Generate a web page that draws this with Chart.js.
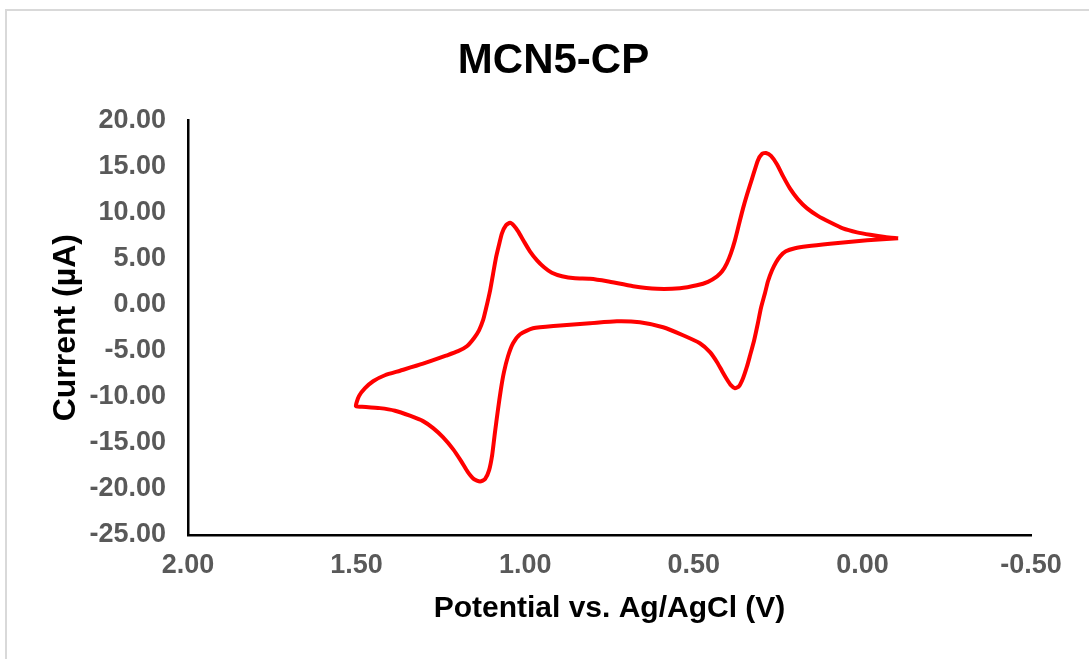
<!DOCTYPE html>
<html>
<head>
<meta charset="utf-8">
<title>MCN5-CP</title>
<script src="https://cdn.jsdelivr.net/npm/chart.js@4/dist/chart.umd.min.js"></script>
<style>
  html, body { margin: 0; padding: 0; background: #fff; }
  .frame {
    position: absolute;
    left: 5px;
    top: 9px;
    right: 0;
    bottom: 0;
    border-top: 2px solid #d9d9d9;
    border-left: 2px solid #d9d9d9;
  }
  #cv { position: absolute; left: 0; top: 0; }
</style>
</head>
<body>
<div class="frame"></div>
<canvas id="cv" width="1089" height="659"></canvas>
<script>
// cyclic voltammogram, one closed sweep (V vs Ag/AgCl, current in µA)
// upper branch runs right -> left, lower branch back left -> right
const potential = [
  -0.106, -0.067, -0.023, 0.016, 0.058, 0.096, 0.132, 0.164, 0.191, 0.215,
  0.235, 0.253, 0.271, 0.286, 0.298, 0.310, 0.327, 0.342, 0.354, 0.366,
  0.378, 0.390, 0.402, 0.416, 0.431, 0.458, 0.491, 0.541, 0.609, 0.680,
  0.757, 0.808, 0.852, 0.891, 0.921, 0.944, 0.965, 0.986, 1.004, 1.021,
  1.033, 1.045, 1.057, 1.069, 1.078, 1.087, 1.096, 1.104, 1.116, 1.125,
  1.137, 1.152, 1.173, 1.199, 1.235, 1.303, 1.371, 1.416, 1.451, 1.475,
  1.493, 1.502,
  1.484, 1.431, 1.386, 1.342, 1.303, 1.273, 1.244, 1.214, 1.190, 1.170,
  1.152, 1.134, 1.119, 1.107, 1.098, 1.090, 1.081, 1.072, 1.063, 1.051,
  1.036, 1.015, 0.977, 0.906, 0.808, 0.728, 0.660, 0.591, 0.532, 0.482,
  0.452, 0.431, 0.416, 0.402, 0.390, 0.378, 0.366, 0.354, 0.342, 0.333,
  0.321, 0.310, 0.301, 0.289, 0.280, 0.268, 0.256, 0.244, 0.227, 0.200,
  0.164, 0.096, -0.014, -0.106
];
const current = [
  7.20, 7.34, 7.58, 7.85, 8.28, 8.94, 9.64, 10.45, 11.43, 12.62,
  13.92, 15.22, 16.15, 16.47, 16.36, 15.66, 13.71, 11.97, 10.45, 8.72,
  6.98, 5.57, 4.49, 3.62, 3.08, 2.48, 2.10, 1.78, 1.72, 2.00,
  2.54, 2.81, 2.86, 3.08, 3.46, 4.06, 4.81, 5.79, 6.88, 7.96,
  8.56, 8.88, 8.61, 7.74, 6.44, 5.03, 3.19, 1.56, -0.39, -1.69,
  -2.78, -3.64, -4.51, -5.05, -5.54, -6.41, -7.17, -7.66, -8.31, -9.07,
  -9.93, -11.02,
  -11.07, -11.23, -11.51, -12.05, -12.64, -13.40, -14.38, -15.68, -16.98, -18.17,
  -18.93, -19.20, -18.93, -17.96, -16.33, -13.95, -11.45, -9.17, -7.33, -5.60,
  -4.19, -3.21, -2.56, -2.29, -2.02, -1.80, -1.91, -2.45, -3.32, -4.19,
  -5.16, -6.25, -7.22, -8.09, -8.74, -9.07, -8.85, -7.98, -6.68, -5.49,
  -3.86, -2.02, -0.39, 1.24, 2.54, 3.73, 4.60, 5.25, 5.79, 6.12,
  6.33, 6.60, 6.98, 7.20
];

const xTicks = [2.0, 1.5, 1.0, 0.5, 0.0, -0.5];
const yTicks = [20, 15, 10, 5, 0, -5, -10, -15, -20, -25];

const points = potential.map((v, i) => ({ x: v, y: current[i] }));
const tickGray = "#595959";
const family = "'Liberation Sans', Arial, sans-serif";

new Chart(document.getElementById("cv"), {
  type: "scatter",
  data: {
    datasets: [
      {
        data: points,
        showLine: true,
        borderColor: "#ff0000",
        borderWidth: 4,
        pointRadius: 0,
        tension: 0.2,
        fill: false,
      },
    ],
  },
  options: {
    responsive: false,
    animation: false,
    layout: { padding: { top: 10, right: 58, bottom: 0, left: 76 } },
    plugins: {
      legend: { display: false },
      tooltip: { enabled: false },
      title: {
        display: true,
        text: "MCN5-CP",
        color: "#000",
        font: { family, size: 42, weight: "bold", lineHeight: 1.2 },
        padding: { top: 26, bottom: 34 },
      },
    },
    scales: {
      x: {
        type: "linear",
        reverse: true,
        min: Math.min(...xTicks),
        max: Math.max(...xTicks),
        afterBuildTicks: (s) => { s.ticks = xTicks.map((v) => ({ value: v })); },
        afterFit: (s) => { s.height = 124; },
        grid: { display: false, drawTicks: false, tickLength: 0 },
        border: { display: true, color: "#000", width: 2.5 },
        ticks: {
          color: tickGray,
          padding: 14,
          maxRotation: 0,
          font: { family, size: 27, weight: "bold" },
          callback: (v) => Number(v).toFixed(2),
        },
        title: {
          display: true,
          text: "Potential vs. Ag/AgCl (V)",
          color: "#000",
          font: { family, size: 30, weight: "bold", lineHeight: 1.2 },
          padding: { top: 32, bottom: 32 },
        },
      },
      y: {
        type: "linear",
        min: Math.min(...yTicks),
        max: Math.max(...yTicks),
        afterBuildTicks: (s) => { s.ticks = yTicks.map((v) => ({ value: v })); },
        // keep the plot's left edge at x = 188 regardless of the outer padding
        afterFit: (s) => { s.width = 112; },
        grid: { display: false, drawTicks: false, tickLength: 0 },
        border: { display: true, color: "#000", width: 2.5 },
        ticks: {
          color: tickGray,
          padding: 22,
          font: { family, size: 27, weight: "bold" },
          callback: (v) => Number(v).toFixed(2),
        },
        title: {
          display: true,
          text: "Current (µA)",
          color: "#000",
          font: { family, size: 32, weight: "bold", lineHeight: 1.2 },
          padding: { top: -29, bottom: -29 },
        },
      },
    },
  },
});
</script>
</body>
</html>
